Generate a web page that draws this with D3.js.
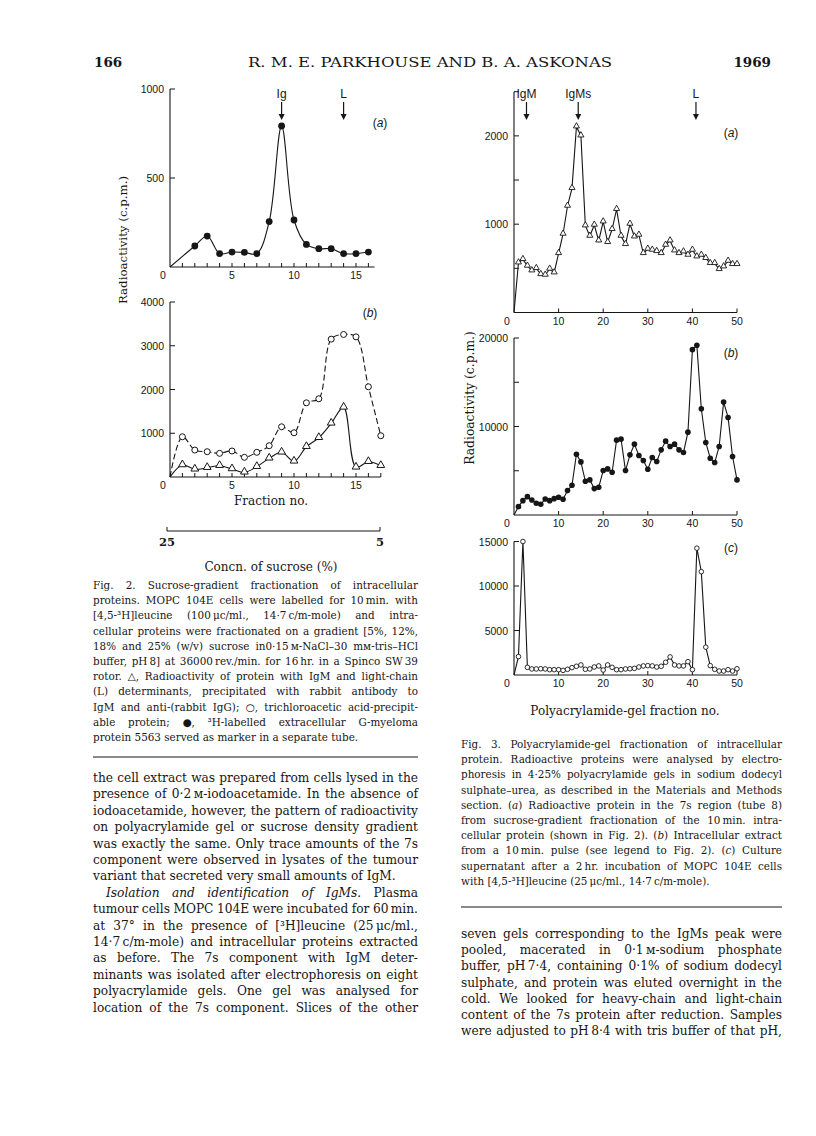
<!DOCTYPE html>
<html><head><meta charset="utf-8">
<script src="https://cdn.jsdelivr.net/npm/d3@7/dist/d3.min.js"></script>
<style>body{margin:0;background:#fff}svg{display:block}</style>
</head><body>
<svg id="page" width="816" height="1136"></svg>
<script>
// ---------------- DATA ----------------
// Fig. 2 (a): marker G-myeloma protein (filled circles)
const fig2aFraction = [0,2,3,4,5,6,7,8,9,10,11,12,13,14,15,16];
const fig2aMarker   = [0,118,174,75,84,82,75,255,792,264,127,103,103,75,75,84];
// Fig. 2 (b)
const fig2bFraction = [0,1,2,3,4,5,6,7,8,9,10,11,12,13,14,15,16,17];
const fig2bTCA      = [0,920,616,578,541,594,450,564,715,1148,1011,1696,1788,3151,3258,3203,2062,943];
const fig2bIgM      = [0,274,176,212,258,183,107,235,427,564,358,692,897,1226,1591,221,349,258];
const fig2aYTicks = [500,1000];
const fig2bYTicks = [1000,2000,3000,4000];
const fig2XLabels = [0,5,10,15];
const sucroseTicks = [25,5];
const fig2Arrows = [{label:"Ig", fraction:9},{label:"L", fraction:14}];
// Fig. 3
const fig3Fraction = d3.range(0,51);
const fig3a = [0,564,602,527,474,500,432,425,493,451,670,889,1206,1406,2104,2002,983,866,991,813,1028,795,942,1169,866,772,1002,858,878,670,719,708,693,670,764,813,700,670,689,651,708,632,651,614,557,557,489,519,583,546,546];
const fig3b = [0,944,1623,2076,1699,1321,1208,1812,1623,1850,2000,1774,2756,3360,6870,6000,3813,3964,2982,3134,5021,5210,4832,8456,8569,5021,6795,8003,6719,6153,5172,6493,6040,7361,8343,7738,8003,7361,7059,9361,18686,19177,12005,8192,6417,5927,7738,12760,11023,6606,3964];
const fig3c = [0,2070,15000,860,680,680,700,680,600,600,600,520,640,830,980,1130,640,680,900,1020,560,1130,860,600,600,680,700,750,900,1020,1050,1020,900,980,1430,2030,1130,1020,1020,1500,600,14250,11610,3130,1050,640,450,450,600,450,700];
const fig3XLabels = [0,10,20,30,40,50];
const fig3aYTicks = [500,1000,1500,2000,2500], fig3aYLabels = [1000,2000];
const fig3bYTicks = [5000,10000,15000,20000], fig3bYLabels = [10000,20000];
const fig3cYTicks = [5000,10000,15000], fig3cYLabels = [5000,10000,15000];
const fig3Arrows = [{label:"IgM", fraction:2.8},{label:"IgMs", fraction:14.4},{label:"L", fraction:40.8}];

// ---------------- TEXT ----------------
const header = {page:"166", title:"R. M. E. PARKHOUSE AND B. A. ASKONAS", year:"1969"};
const fig2Caption = [
 "Fig. 2. Sucrose-gradient fractionation of intracellular",
 "proteins. MOPC 104E cells were labelled for 10\u2009min. with",
 "[4,5-\u00b3H]leucine (100\u2009\u03bcc/ml., 14\u00b77\u2009c/m-mole) and intra-",
 "cellular proteins were fractionated on a gradient [5%, 12%,",
 "18% and 25% (w/v) sucrose in0\u00b715\u2009\u1d0d-NaCl\u201330 m\u1d0d-tris\u2013HCl",
 "buffer, pH\u20098] at 36000\u2009rev./min. for 16\u2009hr. in a Spinco SW\u200939",
 "rotor. \u25b3, Radioactivity of protein with IgM and light-chain",
 "(L) determinants, precipitated with rabbit antibody to",
 "IgM and anti-(rabbit IgG); \u25cb, trichloroacetic acid-precipit-",
 "able protein; \u25cf, \u00b3H-labelled extracellular G-myeloma",
 "protein 5563 served as marker in a separate tube."
];
const leftBody = [
 "the cell extract was prepared from cells lysed in the",
 "presence of 0\u00b72\u2009\u1d0d-iodoacetamide. In the absence of",
 "iodoacetamide, however, the pattern of radioactivity",
 "on polyacrylamide gel or sucrose density gradient",
 "was exactly the same. Only trace amounts of the 7s",
 "component were observed in lysates of the tumour",
 "variant that secreted very small amounts of IgM.",
 "*Isolation* *and* *identification* *of* *IgMs.* Plasma",
 "tumour cells MOPC 104E were incubated for 60\u2009min.",
 "at 37\u00b0 in the presence of [\u00b3H]leucine (25\u2009\u03bcc/ml.,",
 "14\u00b77\u2009c/m-mole) and intracellular proteins extracted",
 "as before. The 7s component with IgM deter-",
 "minants was isolated after electrophoresis on eight",
 "polyacrylamide gels. One gel was analysed for",
 "location of the 7s component. Slices of the other"
];
const fig3Caption = [
 "Fig. 3. Polyacrylamide-gel fractionation of intracellular",
 "protein. Radioactive proteins were analysed by electro-",
 "phoresis in 4\u00b725% polyacrylamide gels in sodium dodecyl",
 "sulphate\u2013urea, as described in the Materials and Methods",
 "section. (*a*) Radioactive protein in the 7s region (tube 8)",
 "from sucrose-gradient fractionation of the 10\u2009min. intra-",
 "cellular protein (shown in Fig. 2). (*b*) Intracellular extract",
 "from a 10\u2009min. pulse (see legend to Fig. 2). (*c*) Culture",
 "supernatant after a 2\u2009hr. incubation of MOPC 104E cells",
 "with [4,5-\u00b3H]leucine (25\u2009\u03bcc/ml., 14\u00b77\u2009c/m-mole)."
];
const rightBody = [
 "seven gels corresponding to the IgMs peak were",
 "pooled, macerated in 0\u00b71\u2009\u1d0d-sodium phosphate",
 "buffer, pH\u20097\u00b74, containing 0\u00b71% of sodium dodecyl",
 "sulphate, and protein was eluted overnight in the",
 "cold. We looked for heavy-chain and light-chain",
 "content of the 7s protein after reduction. Samples",
 "were adjusted to pH\u20098\u00b74 with tris buffer of that pH,"
];

// ---------------- RENDER ----------------
const svg = d3.select("#page");
svg.append("rect").attr("width",816).attr("height",1136).attr("fill","#fff");
const SERIF = "DejaVu Serif", SANS = "Liberation Sans";
const INK = "#161616";
const ctx = document.createElement("canvas").getContext("2d");
function measure(s, font){ ctx.font = font; return ctx.measureText(s).width; }
function parseWord(w){ const segs=[]; let it=false, cur="";
  for (const ch of w){ if(ch==="*"){ if(cur) segs.push({t:cur,it}); cur=""; it=!it; } else cur+=ch; }
  if(cur) segs.push({t:cur,it}); return segs; }
function textLine(g, str, x0, x1, y, size, justify, indent){
  const words = str.split(" ").filter(w=>w.length);
  const wsegs = words.map(parseWord);
  const widths = wsegs.map(segs=>d3.sum(segs, s=>measure(s.t, (s.it?"italic ":"")+size+"px '"+SERIF+"'")));
  const start = x0 + (indent||0);
  const space = measure(" ", size+"px '"+SERIF+"'");
  const gap = (justify && words.length>1) ? (x1-start-d3.sum(widths))/(words.length-1) : space;
  const t = g.append("text").attr("y", y).style("font-family", SERIF).style("font-size", size+"px").attr("fill",INK);
  let x = start;
  wsegs.forEach((segs,i)=>{
    segs.forEach((s,j)=>{ const ts = t.append("tspan").text(s.t);
      if(j===0) ts.attr("x", x); if(s.it) ts.style("font-style","italic"); });
    x += widths[i] + gap;
  });
}
function paragraph(lines, x0, x1, y0, lh, size, noJustify, indents){
  const g = svg.append("g");
  lines.forEach((l,i)=> textLine(g, l, x0, x1, y0+i*lh, size, !noJustify.includes(i), (indents&&indents[i])||0));
}

// header
svg.append("text").attr("x",94).attr("y",67).style("font-family",SERIF).style("font-size","13.5px").style("font-weight","bold").attr("fill",INK).text(header.page);
svg.append("text").attr("x",430).attr("y",67).attr("text-anchor","middle").attr("textLength",364).attr("lengthAdjust","spacingAndGlyphs").style("font-family",SERIF).style("font-size","13.5px").attr("fill",INK).text(header.title);
svg.append("text").attr("x",771).attr("y",67).attr("text-anchor","end").style("font-family",SERIF).style("font-size","13.5px").style("font-weight","bold").attr("fill",INK).text(header.year);

// axis helper
function axes(g, x, y, xTicks, xLabels, yTicks, yLabels){
  const xr = x.range(), [y0, yTop] = y.range(), x0 = xr[0];
  g.append("line").attr("x1",xr[0]).attr("x2",xr[1]).attr("y1",y0).attr("y2",y0).attr("stroke",INK).attr("stroke-width",1.1);
  g.append("line").attr("x1",x0).attr("x2",x0).attr("y1",y0).attr("y2",yTop).attr("stroke",INK).attr("stroke-width",1.1);
  xTicks.forEach(v=>g.append("line").attr("x1",x(v)).attr("x2",x(v)).attr("y1",y0).attr("y2",y0-4).attr("stroke",INK));
  yTicks.forEach(v=>g.append("line").attr("x1",x0).attr("x2",x0+5).attr("y1",y(v)).attr("y2",y(v)).attr("stroke",INK));
  xLabels.forEach(v=>g.append("text").attr("x", v===0 ? x(v)-7 : x(v)).attr("y", y0+12)
     .attr("text-anchor","middle").style("font-family",SANS).style("font-size","10.5px").attr("fill",INK).text(v));
  yLabels.forEach(v=>g.append("text").attr("x", x0-6).attr("y", y(v)+4)
     .attr("text-anchor","end").style("font-family",SANS).style("font-size","10.5px").attr("fill",INK).text(v));
}
function arrows(g, x, list, yLabel, yA0, yA1){
  list.forEach(a=>{
    const px = x(a.fraction);
    g.append("text").attr("x",px).attr("y",yLabel).attr("text-anchor","middle").style("font-family",SANS).style("font-size","12px").attr("fill",INK).text(a.label);
    g.append("line").attr("x1",px).attr("x2",px).attr("y1",yA0).attr("y2",yA1-3).attr("stroke",INK).attr("stroke-width",1.2);
    g.append("path").attr("d",`M${px-3},${yA1-6}L${px+3},${yA1-6}L${px},${yA1}Z`).attr("fill",INK);
  });
}
function panelLabel(g, px, py, letter){
  g.append("text").attr("x",px).attr("y",py).attr("text-anchor","middle").style("font-family",SANS).style("font-size","12px").attr("fill",INK)
   .html(`(<tspan font-style="italic">${letter}</tspan>)`);
}
const tri = d3.symbol().type(d3.symbolTriangle);

// ---------- Fig. 2 ----------
const f2 = svg.append("g");
const x2a = d3.scaleLinear().domain([0,16.5]).range([170,170+16.5*12.4]);
const y2a = d3.scaleLinear().domain([0,1000]).range([267,89]);
axes(f2, x2a, y2a, d3.range(1,17), fig2XLabels, fig2aYTicks, fig2aYTicks);
const curve2 = d3.curveCatmullRom.alpha(0.5);
f2.append("path").attr("d", d3.line().x((d,i)=>x2a(fig2aFraction[i])).y(d=>y2a(d)).curve(curve2)(fig2aMarker))
  .attr("fill","none").attr("stroke",INK).attr("stroke-width",1.1);
f2.selectAll(null).data(fig2aMarker.slice(1)).join("circle").attr("cx",(d,i)=>x2a(fig2aFraction[i+1])).attr("cy",d=>y2a(d)).attr("r",3.4).attr("fill",INK);
arrows(f2, x2a, fig2Arrows, 98, 102, 120);
panelLabel(f2, 380, 127, "a");

const x2b = d3.scaleLinear().domain([0,17]).range([170,170+17*12.4]);
const y2b = d3.scaleLinear().domain([0,4000]).range([477,302]);
axes(f2, x2b, y2b, d3.range(1,18), fig2XLabels, fig2bYTicks, fig2bYTicks);
f2.append("path").attr("d", d3.line().x((d,i)=>x2b(fig2bFraction[i])).y(d=>y2b(d)).curve(curve2)(fig2bTCA))
  .attr("fill","none").attr("stroke",INK).attr("stroke-width",1.1).attr("stroke-dasharray","6,3");
f2.append("path").attr("d", d3.line().x((d,i)=>x2b(fig2bFraction[i])).y(d=>y2b(d)).curve(curve2)(fig2bIgM))
  .attr("fill","none").attr("stroke",INK).attr("stroke-width",1.1);
f2.selectAll(null).data(fig2bTCA.slice(1)).join("circle").attr("cx",(d,i)=>x2b(fig2bFraction[i+1])).attr("cy",d=>y2b(d)).attr("r",3).attr("fill","#fff").attr("stroke",INK).attr("stroke-width",1);
f2.selectAll(null).data(fig2bIgM.slice(1)).join("path").attr("d",tri.size(26))
  .attr("transform",(d,i)=>`translate(${x2b(fig2bFraction[i+1])},${y2b(d)-0.5})`).attr("fill","#fff").attr("stroke",INK).attr("stroke-width",1);
panelLabel(f2, 370, 317, "b");
f2.append("text").attr("x",271).attr("y",505).attr("text-anchor","middle").style("font-family",SERIF).style("font-size","12px").attr("fill",INK).text("Fraction no.");
// sucrose scale
const xs = d3.scaleLinear().domain([25,5]).range([167,380]);
f2.append("line").attr("x1",xs(25)).attr("x2",xs(5)).attr("y1",531).attr("y2",531).attr("stroke",INK).attr("stroke-width",1.1);
sucroseTicks.forEach(v=>{
  f2.append("line").attr("x1",xs(v)).attr("x2",xs(v)).attr("y1",531).attr("y2",527).attr("stroke",INK);
  f2.append("text").attr("x",xs(v)).attr("y",546).attr("text-anchor","middle").style("font-family",SERIF).style("font-size","11.5px").style("font-weight","bold").attr("fill",INK).text(v);
});
f2.append("text").attr("x",271).attr("y",571).attr("text-anchor","middle").style("font-family",SERIF).style("font-size","12px").attr("fill",INK).text("Concn. of sucrose (%)");
f2.append("text").attr("transform","translate(127,240) rotate(-90)").attr("text-anchor","middle").style("font-family",SERIF).style("font-size","11.8px").attr("fill",INK).text("Radioactivity (c.p.m.)");

// ---------- Fig. 3 ----------
const f3 = svg.append("g");
const x3 = d3.scaleLinear().domain([0,50]).range([514,737]);
const y3a = d3.scaleLinear().domain([0,2500]).range([312.5,91.7]);
const y3b = d3.scaleLinear().domain([0,20000]).range([515,338]);
const y3c = d3.scaleLinear().domain([0,15000]).range([675,541.5]);
const x3Ticks = [10,20,30,40,50];
axes(f3, x3, y3a, x3Ticks, fig3XLabels, fig3aYTicks, fig3aYLabels);
axes(f3, x3, y3b, x3Ticks, fig3XLabels, fig3bYTicks, fig3bYLabels);
axes(f3, x3, y3c, x3Ticks, fig3XLabels, fig3cYTicks, fig3cYLabels);
const lin = (y)=>d3.line().x((d,i)=>x3(fig3Fraction[i])).y(d=>y(d));
f3.append("path").attr("d", lin(y3a)(fig3a)).attr("fill","none").attr("stroke",INK).attr("stroke-width",1.1);
f3.selectAll(null).data(fig3a.slice(1)).join("path").attr("d",tri.size(16))
  .attr("transform",(d,i)=>`translate(${x3(fig3Fraction[i+1])},${y3a(d)-0.5})`).attr("fill","#fff").attr("stroke",INK).attr("stroke-width",0.9);
f3.append("path").attr("d", lin(y3b)(fig3b)).attr("fill","none").attr("stroke",INK).attr("stroke-width",1.1);
f3.selectAll(null).data(fig3b.slice(1)).join("circle").attr("cx",(d,i)=>x3(fig3Fraction[i+1])).attr("cy",d=>y3b(d)).attr("r",2.8).attr("fill",INK);
f3.append("path").attr("d", lin(y3c)(fig3c)).attr("fill","none").attr("stroke",INK).attr("stroke-width",1.1);
f3.selectAll(null).data(fig3c.slice(1)).join("circle").attr("cx",(d,i)=>x3(fig3Fraction[i+1])).attr("cy",d=>y3c(d)).attr("r",2.3).attr("fill","#fff").attr("stroke",INK).attr("stroke-width",0.9);
arrows(f3, x3, fig3Arrows, 98, 102, 120);
panelLabel(f3, 731, 137, "a");
panelLabel(f3, 731, 357, "b");
panelLabel(f3, 731, 552, "c");
f3.append("text").attr("x",625).attr("y",715).attr("text-anchor","middle").style("font-family",SERIF).style("font-size","12px").attr("fill",INK).text("Polyacrylamide-gel fraction no.");
f3.append("text").attr("transform","translate(474,398) rotate(-90)").attr("text-anchor","middle").style("font-family",SERIF).style("font-size","12.3px").attr("fill",INK).text("Radioactivity (c.p.m.)");

// ---------- captions / body ----------
paragraph(fig2Caption, 93, 418, 589, 15.2, 10.4, [10]);
svg.append("line").attr("x1",93).attr("x2",418).attr("y1",757).attr("y2",757).attr("stroke",INK).attr("stroke-width",1.2);
paragraph(leftBody, 93, 418, 782, 16.4, 12.2, [6], {7:13});
paragraph(fig3Caption, 461, 782, 748, 15.2, 10.4, [9]);
svg.append("line").attr("x1",461).attr("x2",782).attr("y1",907).attr("y2",907).attr("stroke",INK).attr("stroke-width",1.2);
paragraph(rightBody, 461, 782, 938, 16.2, 12.2, []);
</script>
</body></html>
